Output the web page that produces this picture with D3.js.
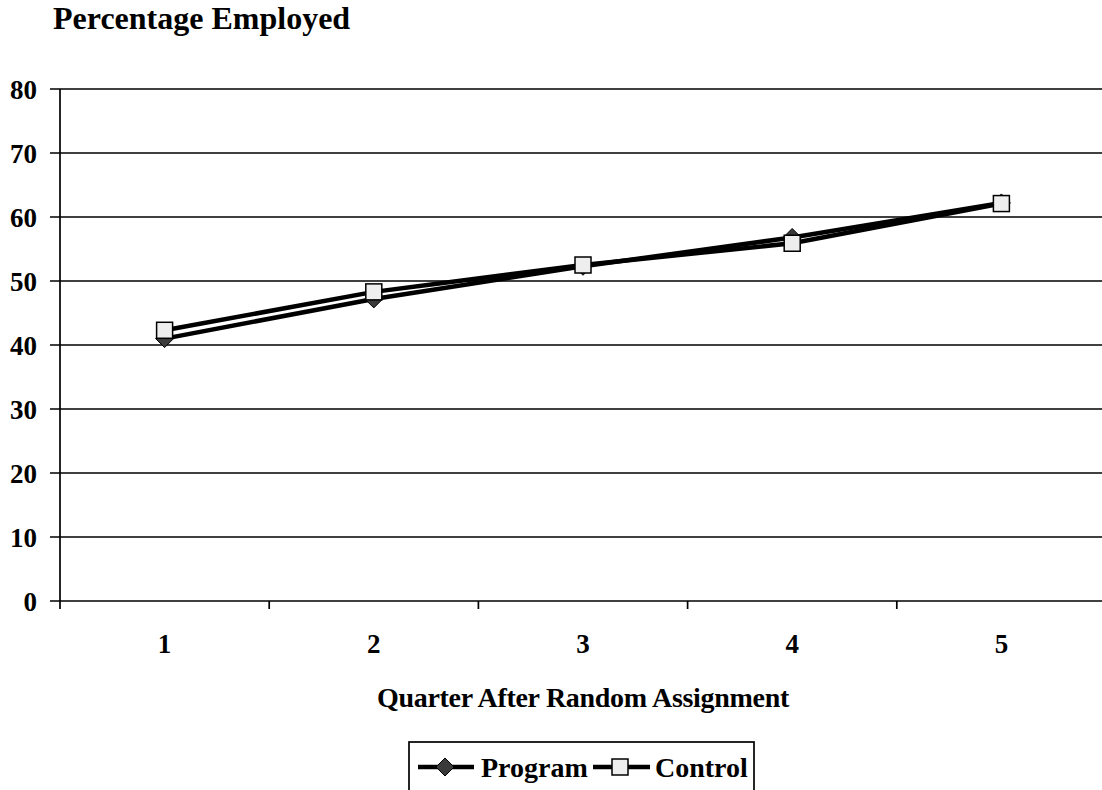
<!DOCTYPE html>
<html>
<head>
<meta charset="utf-8">
<script src="https://cdn.jsdelivr.net/npm/d3@7"></script>
<style>
body { margin: 0; background: #fff; }
svg { font-family: "Liberation Serif", "Times New Roman", serif; font-weight: bold; }
</style>
</head>
<body>
<svg id="chart"></svg>
<script>
// DATA
var quarters = ["1", "2", "3", "4", "5"];
var programValues = [41.0, 47.2, 52.3, 56.8, 62.2];
var controlValues = [42.3, 48.3, 52.5, 55.9, 62.1];
var yTicks = [0, 10, 20, 30, 40, 50, 60, 70, 80];

var width = 1102, height = 790;
var svg = d3.select("#chart").attr("width", width).attr("height", height);

// SCALES
var x = d3.scaleBand().domain(quarters).range([60, 1106]);
var y = d3.scaleLinear().domain([0, 80]).range([601, 89]);

// title
svg.append("text")
.attr("x", 53).attr("y", 29)
.style("font-size", "32px")
.text("Percentage Employed");

// gridlines
svg.append("g").selectAll("line")
.data(yTicks)
.enter().append("line")
.attr("x1", 50).attr("x2", 1106)
.attr("y1", (d)=>y(d)).attr("y2", (d)=>y(d))
.attr("stroke", "#000").attr("stroke-width", 1.7);

// y axis line
svg.append("line")
.attr("x1", 60).attr("x2", 60)
.attr("y1", y(80)).attr("y2", y(0) + 8)
.attr("stroke", "#000").attr("stroke-width", 1.7);

// y labels
svg.append("g").selectAll("text")
.data(yTicks)
.enter().append("text")
.attr("x", 37).attr("y", (d)=>y(d) + 10)
.attr("text-anchor", "end")
.style("font-size", "27px")
.text((d)=>d);

// x ticks
var xTickPos = quarters.map((q)=>x(q) + x.bandwidth());
svg.append("g").selectAll("line")
.data(xTickPos)
.enter().append("line")
.attr("x1", (d)=>d).attr("x2", (d)=>d)
.attr("y1", y(0)).attr("y2", y(0) + 8)
.attr("stroke", "#000").attr("stroke-width", 1.7);

// x labels
svg.append("g").selectAll("text")
.data(quarters)
.enter().append("text")
.attr("x", (d)=>x(d) + x.bandwidth()/2)
.attr("y", 653)
.attr("text-anchor", "middle")
.style("font-size", "27px")
.text((d)=>d);

svg.append("text")
.attr("x", 583).attr("y", 707)
.attr("text-anchor", "middle")
.style("font-size", "28px")
.style("letter-spacing", "-0.3px")
.text("Quarter After Random Assignment");

// LINES
var line = d3.line()
.x((d, i)=>x(quarters[i]) + x.bandwidth()/2)
.y((d)=>y(d));

function diamond(g, cx, cy) {
	g.append("path")
	.attr("d", "M" + cx + "," + (cy - 9) + "L" + (cx + 9) + "," + cy + "L" + cx + "," + (cy + 9) + "L" + (cx - 9) + "," + cy + "Z")
	.attr("fill", "#3a3a3a").attr("stroke", "#000").attr("stroke-width", 1);
}
function square(g, cx, cy) {
	g.append("rect")
	.attr("x", cx - 8).attr("y", cy - 8)
	.attr("width", 16).attr("height", 16)
	.attr("fill", "#eeeeee").attr("stroke", "#000").attr("stroke-width", 1.5);
}

svg.append("path")
.datum(programValues)
.attr("d", line)
.attr("fill", "none").attr("stroke", "#000").attr("stroke-width", 4.5);

svg.append("path")
.datum(controlValues)
.attr("d", line)
.attr("fill", "none").attr("stroke", "#000").attr("stroke-width", 4.5);

var markers = svg.append("g");
programValues.forEach((d, i)=>diamond(markers, x(quarters[i]) + x.bandwidth()/2, y(d)));
controlValues.forEach((d, i)=>square(markers, x(quarters[i]) + x.bandwidth()/2, y(d)));

// LEGEND
var legend = svg.append("g");
legend.append("rect")
.attr("x", 409).attr("y", 742)
.attr("width", 345).attr("height", 60)
.attr("fill", "#fff").attr("stroke", "#000").attr("stroke-width", 1.7);

var ly = 767;
legend.append("line")
.attr("x1", 418).attr("x2", 474).attr("y1", ly).attr("y2", ly)
.attr("stroke", "#000").attr("stroke-width", 4.5);
diamond(legend, 445, ly);
legend.append("text")
.attr("x", 481).attr("y", ly + 10)
.style("font-size", "28px")
.text("Program");

legend.append("line")
.attr("x1", 593).attr("x2", 650).attr("y1", ly).attr("y2", ly)
.attr("stroke", "#000").attr("stroke-width", 4.5);
square(legend, 620, ly);
legend.append("text")
.attr("x", 655).attr("y", ly + 10)
.style("font-size", "28px")
.text("Control");
</script>
</body>
</html>
